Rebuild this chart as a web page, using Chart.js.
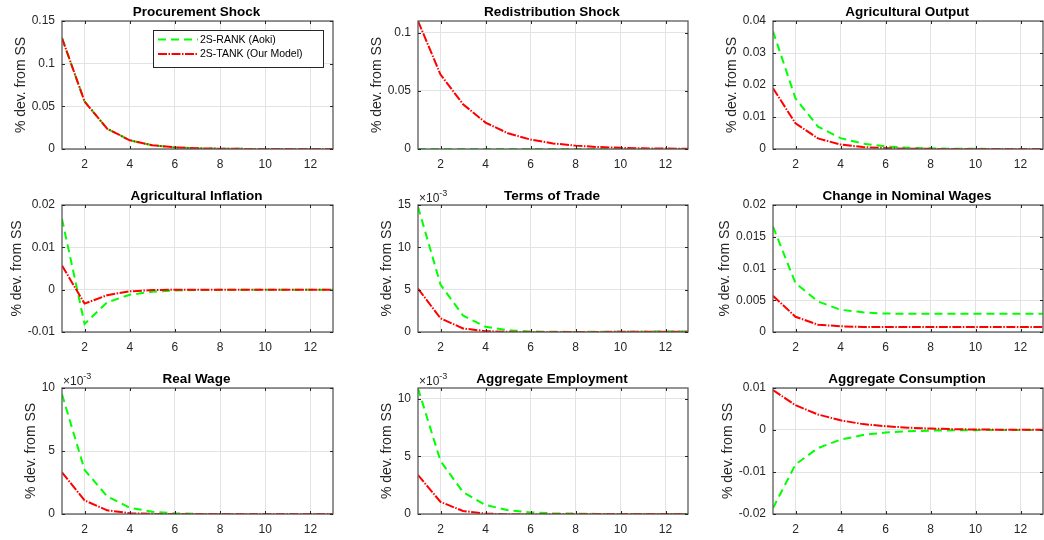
<!DOCTYPE html>
<html>
<head>
<meta charset="utf-8">
<script src="https://cdn.jsdelivr.net/npm/chart.js@4"></script>
<style>
  html, body { margin: 0; padding: 0; background: #fff; }
  #wrap { position: relative; width: 1044px; height: 540px; overflow: hidden; }
  canvas { position: absolute; }
</style>
</head>
<body>
<div id="wrap"></div>
<script>
// periods after the shock
const periods = [1, 2, 3, 4, 5, 6, 7, 8, 9, 10, 11, 12, 13];
const xTicks = [2, 4, 6, 8, 10, 12];

const seriesNames = ["2S-RANK (Aoki)", "2S-TANK (Our Model)"];
const titles = [
  "Procurement Shock", "Redistribution Shock", "Agricultural Output",
  "Agricultural Inflation", "Terms of Trade", "Change in Nominal Wages",
  "Real Wage", "Aggregate Employment", "Aggregate Consumption"
];

// impulse responses, % dev. from SS (panels 5, 7, 8 in units of 1e-3)
const procRANK = [0.130, 0.0556, 0.0238, 0.0102, 0.0044, 0.0019, 0.0008, 0.00035, 0.00015, 0.00006, 0.00003, 0.00001, 0];
const procTANK = [0.130, 0.0556, 0.0238, 0.0102, 0.0044, 0.0019, 0.0008, 0.00035, 0.00015, 0.00006, 0.00003, 0.00001, 0];

const redistRANK = [0, 0, 0, 0, 0, 0, 0, 0, 0, 0, 0, 0, 0];
const redistTANK = [0.110, 0.064, 0.0385, 0.0227, 0.0135, 0.0081, 0.0048, 0.0029, 0.0017, 0.0010, 0.0006, 0.00035, 0.0002];

const agOutRANK = [0.0368, 0.0158, 0.0070, 0.0034, 0.0017, 0.0008, 0.0004, 0.0002, 0.0001, 0.00005, 0.00002, 0.00001, 0];
const agOutTANK = [0.0190, 0.0080, 0.0033, 0.0014, 0.0006, 0.00025, 0.0001, 0.00004, 0.00002, 0.00001, 0, 0, 0];

const agInfRANK = [0.0167, -0.0081, -0.0030, -0.0012, -0.0005, -0.0002, -0.0001, -0.00004, -0.00002, -0.00001, 0, 0, 0];
const agInfTANK = [0.0057, -0.0033, -0.0013, -0.0004, -0.0001, -0.00003, 0, 0, 0, 0, 0, 0, 0];

const totRANK = [14.8, 5.6, 1.95, 0.62, 0.2, 0.06, 0.02, 0.01, 0.02, 0.03, 0.04, 0.05, 0.05];
const totTANK = [5.13, 1.62, 0.42, 0.1, 0.02, 0, 0, 0, 0.01, 0.02, 0.03, 0.03, 0.03];

const wageRANK = [0.0166, 0.0077, 0.0048, 0.0035, 0.0031, 0.0029, 0.00288, 0.00287, 0.00287, 0.00287, 0.00287, 0.00287, 0.00287];
const wageTANK = [0.0057, 0.0024, 0.00115, 0.0009, 0.0008, 0.0008, 0.0008, 0.0008, 0.0008, 0.0008, 0.0008, 0.0008, 0.0008];

const realWRANK = [9.5, 3.5, 1.4, 0.5, 0.18, 0.05, 0.01, 0, 0, 0, 0, 0, 0];
const realWTANK = [3.3, 1.08, 0.29, 0.06, 0.01, 0, 0, 0, 0, 0, 0, 0, 0];

const empRANK = [10.9, 4.6, 1.9, 0.78, 0.33, 0.14, 0.06, 0.03, 0.01, 0, 0, 0, 0];
const empTANK = [3.38, 1.05, 0.26, 0.03, -0.02, -0.02, -0.01, 0, 0, 0, 0, 0, 0];

const consRANK = [-0.0186, -0.0082, -0.0043, -0.0023, -0.0012, -0.0006, -0.0003, -0.00015, -0.00007, -0.00003, -0.00001, 0, 0];
const consTANK = [0.0095, 0.0059, 0.0037, 0.0023, 0.0014, 0.0009, 0.00055, 0.00033, 0.0002, 0.00012, 0.00008, 0.00005, 0.00003];

// y axis limits and tick labels per panel
const yLimits = [[0, 0.15], [0, 0.11], [0, 0.04], [-0.01, 0.02], [0, 15], [0, 0.02], [0, 10], [0, 10.93], [-0.02, 0.01]];
const yTicks = [
  [0, 0.05, 0.1, 0.15], [0, 0.05, 0.1], [0, 0.01, 0.02, 0.03, 0.04],
  [-0.01, 0, 0.01, 0.02], [0, 5, 10, 15], [0, 0.005, 0.01, 0.015, 0.02],
  [0, 5, 10], [0, 5, 10], [-0.02, -0.01, 0, 0.01]
];
const yTickLabels = [
  ["0", "0.05", "0.1", "0.15"], ["0", "0.05", "0.1"], ["0", "0.01", "0.02", "0.03", "0.04"],
  ["-0.01", "0", "0.01", "0.02"], ["0", "5", "10", "15"], ["0", "0.005", "0.01", "0.015", "0.02"],
  ["0", "5", "10"], ["0", "5", "10"], ["-0.02", "-0.01", "0", "0.01"]
];
const yExponent = [null, null, null, null, "-3", null, "-3", "-3", null];

const rankSeries = [procRANK, redistRANK, agOutRANK, agInfRANK, totRANK, wageRANK, realWRANK, empRANK, consRANK];
const tankSeries = [procTANK, redistTANK, agOutTANK, agInfTANK, totTANK, wageTANK, realWTANK, empTANK, consTANK];

const FONT = '"Liberation Sans", Arial, Helvetica, sans-serif';
const AXIS = "#262626";
const RED_DASH = [9, 1.5, 1.5, 1.5];
Chart.defaults.font.family = FONT;

// subplot geometry (page px)
const colLeft = [62, 418, 773], colRight = [333, 688, 1043];
const rowTop = [21, 205, 388], rowBottom = [149, 332, 514];
const PAD_L = 62, PAD_T = 21, PAD_B = 26, PAD_R = 1;

const wrap = document.getElementById("wrap");

const framePlugin = {
  id: "matlabFrame",
  afterDatasetsDraw(chart, args, opts) {
    const { ctx, chartArea: a, scales } = chart;
    ctx.save();
    // box
    ctx.strokeStyle = "#5a5a5a";
    ctx.lineWidth = 1.3;
    ctx.strokeRect(a.left, a.top, a.right - a.left, a.bottom - a.top);
    // inward tick marks
    ctx.strokeStyle = AXIS;
    ctx.lineWidth = 1;
    ctx.beginPath();
    xTicks.forEach(v => {
      const x = Math.round(scales.x.getPixelForValue(v)) + 0.5;
      ctx.moveTo(x, a.bottom); ctx.lineTo(x, a.bottom - 3);
      ctx.moveTo(x, a.top); ctx.lineTo(x, a.top + 3);
    });
    opts.yTicks.forEach(v => {
      const y = Math.round(scales.y.getPixelForValue(v)) + 0.5;
      ctx.moveTo(a.left, y); ctx.lineTo(a.left + 3, y);
      ctx.moveTo(a.right, y); ctx.lineTo(a.right - 3, y);
    });
    ctx.stroke();

    // legend (first panel only)
    if (opts.legend) {
      const lx = a.left + 91, ly = a.top + 9, lw = 170, lh = 37;
      ctx.fillStyle = "#fff";
      ctx.fillRect(lx, ly, lw, lh);
      ctx.strokeStyle = AXIS;
      ctx.lineWidth = 1;
      ctx.strokeRect(lx + 0.5, ly + 0.5, lw, lh);
      const rows = [
        { y: ly + 9.5, color: "#00ff00", dash: [8, 5], text: seriesNames[0] },
        { y: ly + 24, color: "#ff0000", dash: RED_DASH, text: seriesNames[1] }
      ];
      rows.forEach(r => {
        ctx.beginPath();
        ctx.setLineDash(r.dash);
        ctx.strokeStyle = r.color;
        ctx.lineWidth = 2;
        ctx.moveTo(lx + 5, r.y); ctx.lineTo(lx + 45, r.y);
        ctx.stroke();
        ctx.setLineDash([]);
        ctx.fillStyle = "#000";
        ctx.font = "10.5px " + FONT;
        ctx.textBaseline = "middle";
        ctx.textAlign = "left";
        ctx.fillText(r.text, lx + 47, r.y + 0.5);
      });
    }
    ctx.restore();
  },
  afterDraw(chart, args, opts) {
    const { ctx, chartArea: a } = chart;
    ctx.save();
    // title
    ctx.fillStyle = "#000";
    ctx.font = "bold 13.5px " + FONT;
    ctx.textAlign = "center";
    ctx.textBaseline = "alphabetic";
    ctx.fillText(opts.title, (a.left + a.right) / 2 - 1, a.top - 5);
    // y label, placed left of the widest tick label
    ctx.font = "12px " + FONT;
    const maxW = Math.max(...opts.yLabels.map(s => ctx.measureText(s).width));
    ctx.translate(a.left - (maxW + 18), (a.top + a.bottom) / 2);
    ctx.rotate(-Math.PI / 2);
    ctx.fillStyle = AXIS;
    ctx.font = "14px " + FONT;
    ctx.textBaseline = "middle";
    ctx.fillText("% dev. from SS", 0, 0);
    ctx.restore();
    // exponent
    if (opts.exponent) {
      ctx.save();
      ctx.fillStyle = AXIS;
      ctx.font = "12px " + FONT;
      ctx.textAlign = "left";
      ctx.textBaseline = "alphabetic";
      const base = "\u00d710";
      ctx.fillText(base, a.left + 1, a.top - 3);
      const bw = ctx.measureText(base).width;
      ctx.font = "9px " + FONT;
      ctx.fillText(opts.exponent, a.left + 1 + bw, a.top - 9);
      ctx.restore();
    }
  }
};

titles.forEach((title, i) => {
  const c = i % 3, r = Math.floor(i / 3);
  const w = colRight[c] - colLeft[c], h = rowBottom[r] - rowTop[r];
  const cv = document.createElement("canvas");
  cv.width = w + PAD_L + PAD_R;
  cv.height = h + PAD_T + PAD_B;
  cv.style.left = (colLeft[c] - PAD_L) + "px";
  cv.style.top = (rowTop[r] - PAD_T) + "px";
  wrap.appendChild(cv);

  new Chart(cv, {
    type: "line",
    data: {
      labels: periods,
      datasets: [
        {
          label: seriesNames[1],
          data: periods.map((p, k) => ({ x: p, y: tankSeries[i][k] })),
          borderColor: "#ff0000",
          borderWidth: 2,
          borderDash: RED_DASH,
          pointRadius: 0,
          tension: 0,
          order: 0
        },
        {
          label: seriesNames[0],
          data: periods.map((p, k) => ({ x: p, y: rankSeries[i][k] })),
          borderColor: "#00ff00",
          borderWidth: 2,
          borderDash: [8, 5],
          pointRadius: 0,
          tension: 0,
          order: 1
        }
      ]
    },
    options: {
      responsive: false,
      animation: false,
      layout: { padding: { left: 0, top: PAD_T, right: PAD_R, bottom: 0 } },
      plugins: {
        legend: { display: false },
        tooltip: { enabled: false },
        title: { display: false },
        matlabFrame: {
          title: title,
          yTicks: yTicks[i],
          yLabels: yTickLabels[i],
          exponent: yExponent[i],
          legend: i === 0
        }
      },
      scales: {
        x: {
          type: "linear",
          min: 1,
          max: 13,
          afterBuildTicks: s => { s.ticks = xTicks.map(v => ({ value: v })); },
          afterFit: s => { s.height = PAD_B; },
          grid: { color: "#e3e3e3", lineWidth: 1, drawTicks: false },
          border: { display: false },
          ticks: {
            padding: 8,
            color: AXIS,
            font: { size: 12 },
            maxRotation: 0,
            autoSkip: false,
            callback: v => String(v)
          }
        },
        y: {
          type: "linear",
          min: yLimits[i][0],
          max: yLimits[i][1],
          afterBuildTicks: s => { s.ticks = yTicks[i].map(v => ({ value: v })); },
          afterFit: s => { s.width = PAD_L; },
          grid: { color: "#e3e3e3", lineWidth: 1, drawTicks: false },
          border: { display: false },
          ticks: {
            padding: 7,
            color: AXIS,
            font: { size: 12 },
            autoSkip: false,
            callback: (v, idx) => yTickLabels[i][idx]
          }
        }
      }
    },
    plugins: [framePlugin]
  });
});
</script>
</body>
</html>
